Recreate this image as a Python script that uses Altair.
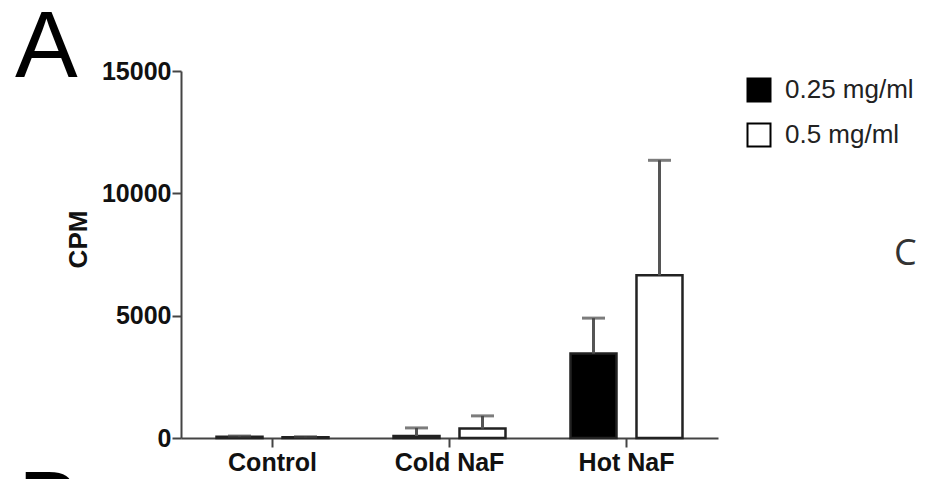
import altair as alt
import pandas as pd

groups = ["Control", "Cold NaF", "Hot NaF"]
doses = ["0.25 mg/ml", "0.5 mg/ml"]
means_025 = [50, 82, 3450]
means_05 = [30, 386, 6650]
err_025 = [30, 330, 1450]
err_05 = [25, 518, 4700]
y_ticks = [0, 5000, 10000, 15000]

rows = []
for i, g in enumerate(groups):
    rows.append({"group": g, "dose": doses[0], "mean": means_025[i], "top": means_025[i] + err_025[i]})
    rows.append({"group": g, "dose": doses[1], "mean": means_05[i], "top": means_05[i] + err_05[i]})
df = pd.DataFrame(rows)

FONT = "Liberation Sans, Arial, sans-serif"

x_enc = alt.X("group:N", sort=groups,
              scale=alt.Scale(paddingInner=0, paddingOuter=0.017),
              axis=alt.Axis(title=None, labelAngle=0, tickSize=9, labelFontSize=25,
                            labelFontWeight="bold", labelPadding=3, labelColor="#111",
                            grid=False))
xo_enc = alt.XOffset("dose:N", sort=doses,
                     scale=alt.Scale(paddingInner=0.303, paddingOuter=0.4925))
y_scale = alt.Scale(domain=[0, 15000], nice=False)

bars = alt.Chart(df).mark_bar(stroke="#222", strokeWidth=2.5).encode(
    x=x_enc,
    xOffset=xo_enc,
    y=alt.Y("mean:Q", scale=y_scale,
            axis=alt.Axis(values=y_ticks, format="d", title="CPM", grid=False,
                          tickSize=9, labelFontSize=25,
                          labelFontWeight="bold", labelPadding=1, labelColor="#111",
                          titleFontSize=26, titleFontWeight="bold", titleColor="#111",
                          titleX=-103, titleY=168, titleAngle=270,
                          titleAlign="center", titleBaseline="middle")),
    fill=alt.Fill("dose:N", sort=doses,
                  scale=alt.Scale(domain=doses, range=["black", "white"]),
                  legend=alt.Legend(title=None, orient="none", legendX=565, legendY=6,
                                    symbolType="square", symbolSize=529,
                                    symbolStrokeWidth=2, symbolStrokeColor="black",
                                    labelFontSize=26, labelFont=FONT, labelColor="#222",
                                    rowPadding=13, labelOffset=13, padding=0)),
)

err_line = alt.Chart(df).mark_rule(color="#555", strokeWidth=3).encode(
    x=alt.X("group:N", sort=groups),
    xOffset=alt.XOffset("dose:N", sort=doses),
    y=alt.Y("mean:Q"),
    y2="top:Q",
)

err_cap = alt.Chart(df).mark_tick(color="#444", thickness=3, size=23, orient="horizontal").encode(
    x=alt.X("group:N", sort=groups),
    xOffset=alt.XOffset("dose:N", sort=doses),
    y=alt.Y("top:Q"),
)

blank = alt.Data(values=[{"k": 1}])
label_a = alt.Chart(blank).mark_text(text="A", fontSize=94, font=FONT, align="left",
                                     baseline="alphabetic", color="#000").encode(
    x=alt.value(-166), y=alt.value(6))
label_b = alt.Chart(blank).mark_text(text="B", fontSize=94, font=FONT, align="left",
                                     baseline="alphabetic", color="#000").encode(
    x=alt.value(-163), y=alt.value(466))
label_c = alt.Chart(blank).mark_text(text="C", fontSize=36, font="Open Sans, " + FONT, align="left",
                                     baseline="alphabetic", color="#333").encode(
    x=alt.value(713), y=alt.value(194))

chart = alt.layer(bars, err_line, err_cap, label_a, label_b, label_c).properties(
    width=537, height=367,
    background="white",
    autosize=alt.AutoSizeParams(type="none"),
    padding={"left": 173, "top": 63, "right": 200, "bottom": 41},
).configure_view(strokeWidth=0).configure_axis(
    grid=False, domainColor="#444", domainWidth=2, tickColor="#444", tickWidth=2,
    labelFont=FONT, titleFont=FONT,
)

chart.save("out.html", embed_options={"renderer": "svg", "actions": False})
